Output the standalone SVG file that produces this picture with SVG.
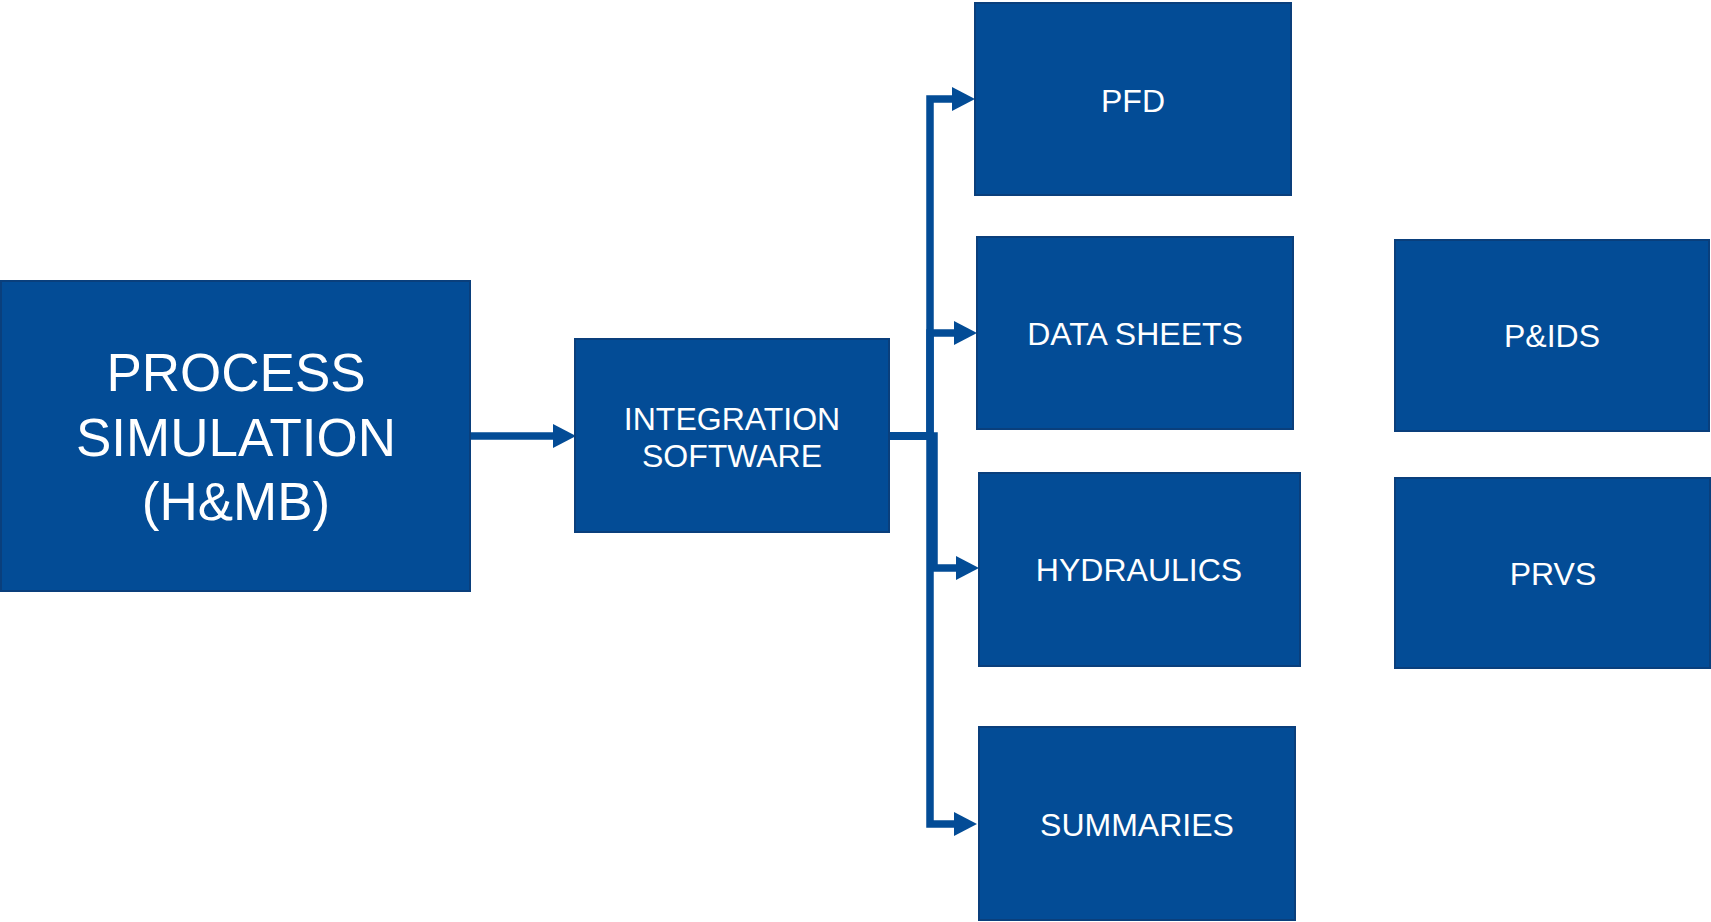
<svg xmlns="http://www.w3.org/2000/svg" width="1711" height="922" viewBox="0 0 1711 922">
  <style>
    .box { fill: #034C96; stroke: #0A3F7C; stroke-width: 2; }
    .lbl { fill: #FFFFFF; font-family: "Liberation Sans", Arial, sans-serif; font-size: 32px; text-anchor: middle; }
    .big { font-size: 53px; }
    .wire { fill: none; stroke: #034C96; stroke-width: 7.5; stroke-linejoin: miter; stroke-linecap: butt; marker-end: url(#head); }
  </style>
  <defs>
    <marker id="head" markerUnits="userSpaceOnUse" markerWidth="24" markerHeight="26" viewBox="0 0 24 26" refX="0" refY="13" orient="auto">
      <path d="M0,1 L23,13 L0,25 Z" fill="#034C96"/>
    </marker>
  </defs>

  <rect width="1711" height="922" fill="#FFFFFF"/>

  <!-- connectors -->
  <g id="connectors">
    <path class="wire" d="M470,436 H553"/>
    <path class="wire" d="M889,436 H930 V99 H952"/>
    <path class="wire" d="M889,436 H930 V333 H954"/>
    <path class="wire" d="M889,436 H934 V568 H956"/>
    <path class="wire" d="M889,436 H930 V824 H954"/>
  </g>

  <g id="process-simulation">
    <rect class="box" x="1" y="281" width="469" height="310"/>
    <text class="lbl big" x="236" y="391">PROCESS</text>
    <text class="lbl big" x="236" y="456">SIMULATION</text>
    <text class="lbl big" x="236" y="520">(H&amp;MB)</text>
  </g>

  <g id="integration-software">
    <rect class="box" x="575" y="339" width="314" height="193"/>
    <text class="lbl" x="732" y="429.5">INTEGRATION</text>
    <text class="lbl" x="732" y="466.5">SOFTWARE</text>
  </g>

  <g id="pfd">
    <rect class="box" x="975" y="3" width="316" height="192"/>
    <text class="lbl" x="1133" y="111.5">PFD</text>
  </g>

  <g id="data-sheets">
    <rect class="box" x="977" y="237" width="316" height="192"/>
    <text class="lbl" x="1135" y="345">DATA SHEETS</text>
  </g>

  <g id="hydraulics">
    <rect class="box" x="979" y="473" width="321" height="193"/>
    <text class="lbl" x="1139" y="580.5">HYDRAULICS</text>
  </g>

  <g id="summaries">
    <rect class="box" x="979" y="727" width="316" height="193"/>
    <text class="lbl" x="1137" y="835.5">SUMMARIES</text>
  </g>

  <g id="pids">
    <rect class="box" x="1395" y="240" width="314" height="191"/>
    <text class="lbl" x="1552" y="347">P&amp;IDS</text>
  </g>

  <g id="prvs">
    <rect class="box" x="1395" y="478" width="315" height="190"/>
    <text class="lbl" x="1553" y="585">PRVS</text>
  </g>
</svg>
